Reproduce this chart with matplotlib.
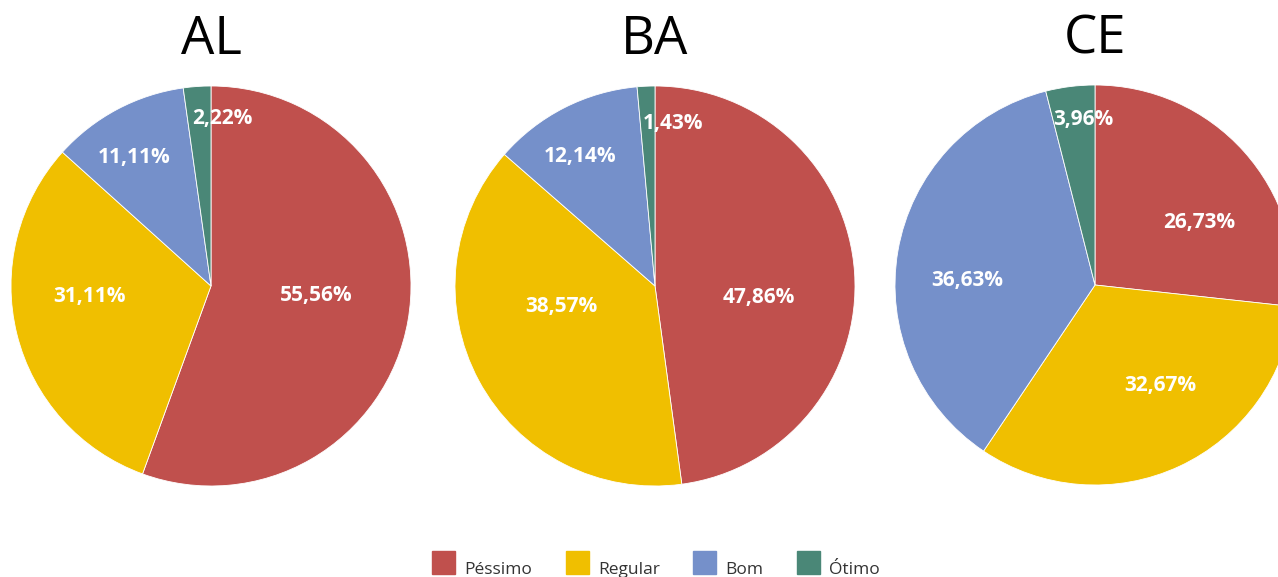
import numpy as np
import matplotlib.pyplot as plt
from matplotlib.patches import Rectangle

categories = ['Péssimo', 'Regular', 'Bom', 'Ótimo']
states = ['AL', 'BA', 'CE']
al_values = [55.56, 31.11, 11.11, 2.22]
ba_values = [47.86, 38.57, 12.14, 1.43]
ce_values = [26.73, 32.67, 36.63, 3.96]

colors = ['#C0504D', '#F0BF00', '#7590CA', '#4A8777']

# label placement per pie: radius fraction and angle nudge (deg, clockwise)
label_r = [[0.53, 0.61, 0.75, 0.84],
           [0.52, 0.48, 0.75, 0.82],
           [0.61, 0.60, 0.64, 0.83]]
label_nudge = [[-5, 9, -3, 8],
               [10, 16, -3, 9],
               [11, -8, -8, 3]]

plt.rcParams['font.family'] = ['Open Sans', 'DejaVu Sans']

W, H = 1278, 577
fig = plt.figure(figsize=(W / 100, H / 100), dpi=100)

centers = [(211, 286), (655, 286), (1095, 285)]
radius = 200


def fmt(v):
    return ('%.2f%%' % v).replace('.', ',')


for k, (state, vals) in enumerate(zip(states, [al_values, ba_values, ce_values])):
    cx, cy = centers[k]
    ax = fig.add_axes([(cx - radius) / W, (H - cy - radius) / H,
                       2 * radius / W, 2 * radius / H])
    wedges, _ = ax.pie(vals, colors=colors, startangle=90, counterclock=False,
                       radius=1, wedgeprops=dict(edgecolor='white', linewidth=0.6))
    ax.set_xlim(-1, 1)
    ax.set_ylim(-1, 1)
    ax.set_aspect('equal')
    ax.axis('off')
    for i, w in enumerate(wedges):
        mid = np.deg2rad((w.theta1 + w.theta2) / 2 - label_nudge[k][i])
        r = label_r[k][i]
        ax.text(r * np.cos(mid), r * np.sin(mid), fmt(vals[i]), color='white',
                fontsize=15, fontweight='bold', ha='center', va='center')
    fig.text(cx / W, 1 - 40 / H, state, fontsize=38, ha='center', va='center',
             color='black')

# legend
leg_x = [432, 566, 693, 797]
for x, c, name in zip(leg_x, colors, categories):
    fig.patches.append(Rectangle((x / W, 1 - 574 / H), 23 / W, 23 / H,
                                 color=c, transform=fig.transFigure, figure=fig))
    fig.text((x + 32) / W, 1 - 570 / H, name, fontsize=12.5, color='#333333',
             ha='left', va='center')

fig.savefig('out.png', dpi=100)
